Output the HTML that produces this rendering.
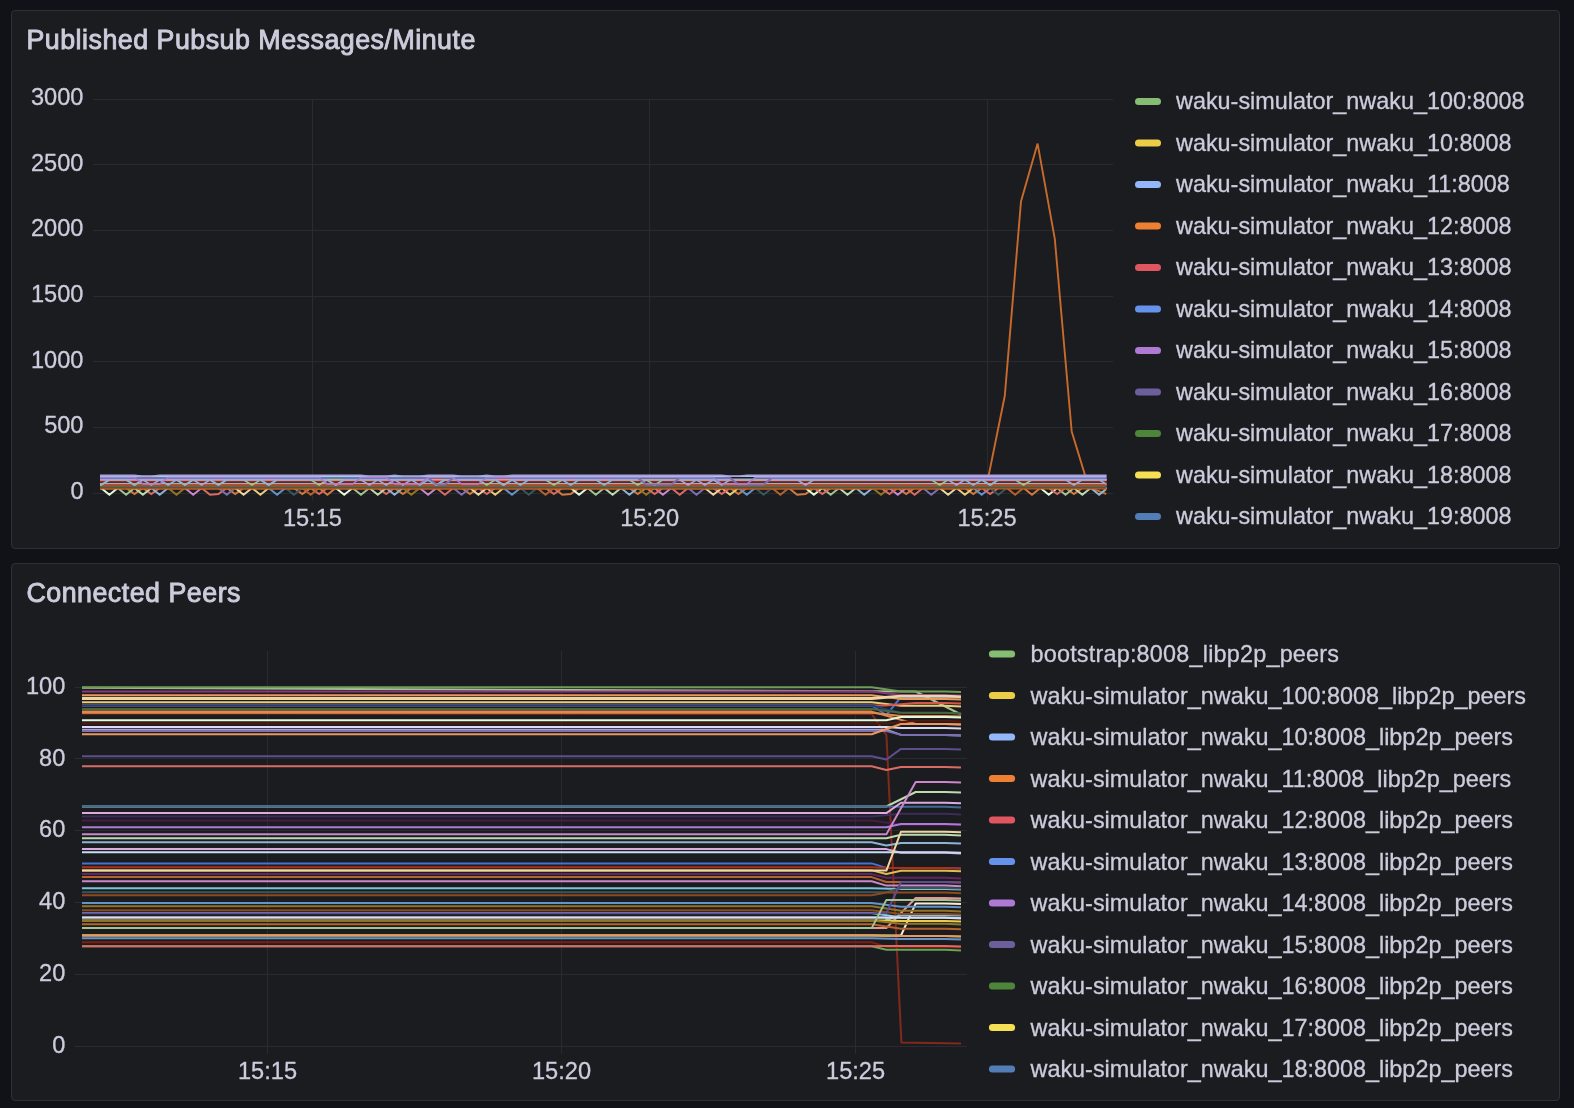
<!DOCTYPE html>
<html><head><meta charset="utf-8"><style>
html,body{margin:0;padding:0;background:#111217;width:1574px;height:1108px;overflow:hidden}
.p{position:absolute;box-sizing:border-box;background:#1b1c20;border:1px solid #2f3036;border-radius:4px}
svg{position:absolute;left:0;top:0;will-change:transform}
text{font-family:"Liberation Sans", sans-serif;fill:#ccccdc}
.ttl{stroke:#ccccdc;stroke-width:0.9px;letter-spacing:0.5px}
.lg{stroke:#ccccdc;stroke-width:0.3px}
</style></head><body>
<div class="p" style="left:11px;top:10px;width:1549px;height:539px"></div>
<div class="p" style="left:11px;top:563px;width:1549px;height:538px"></div>
<svg width="1574" height="1108" viewBox="0 0 1574 1108">
<path d="M93 493.5H1113M93 427.5H1113M93 361.5H1113M93 296.5H1113M93 230.5H1113M93 164.5H1113M93 99.5H1113M312.5 99V500.5M649.5 99V500.5M987.5 99V500.5" stroke="#2a2b30" stroke-width="1" fill="none"/>
<clipPath id="cb"><rect x="100" y="90" width="1006.5" height="420"/></clipPath><g clip-path="url(#cb)">
<path d="M82.6 488.5L971.4 488.5L988.5 476.5L1004.8 395.8L1021 201.5L1037.6 143.6L1054.8 238.9L1071.7 431.6L1088.8 487.5L1106.5 494" stroke="rgb(201,106,44)" stroke-width="1.9" fill="none" stroke-linejoin="miter"/>
<path d="M75.8 488L84.2 488L92.6 494.7L101 488L109.4 488L117.8 488L126.1 488L134.5 494L142.9 488L151.3 488L159.7 488L168.1 488L176.5 488L184.9 488L193.2 488L201.6 488L210 488L218.4 488L226.8 488L235.2 494L243.6 488L252 488L260.4 488L268.7 488L277.1 488L285.5 488L293.9 488L302.3 494L310.7 488L319.1 488L327.4 494.7L335.8 488L344.2 488L352.6 488L361 488L369.4 488L377.8 488L386.2 488L394.5 488L402.9 494L411.3 488L419.7 488L428.1 488L436.5 488L444.9 488L453.3 488L461.6 488L470 494L478.4 488L486.8 488L495.2 488L503.6 488L512 488L520.4 488L528.8 488L537.1 488L545.5 488L553.9 488L562.3 494.7L570.7 494L579.1 488L587.5 488L595.8 488L604.2 488L612.6 488L621 488L629.4 488L637.8 494L646.2 488L654.6 488L662.9 488L671.3 488L679.7 488L688.1 488L696.5 488L704.9 488L713.3 488L721.7 488L730 488L738.4 494L746.8 488L755.2 488L763.6 488L772 488L780.4 488L788.8 488L797.1 494.7L805.5 494L813.9 488L822.3 488L830.7 488L839.1 488L847.5 488L855.9 488L864.2 488L872.6 488L881 488L889.4 488L897.8 488L906.2 494L914.6 488L923 488L931.3 488L939.7 488L948.1 488L956.5 488L964.9 488L973.3 494L981.7 488L990.1 488L998.4 488L1006.8 488L1015.2 488L1023.6 488L1032 494.7L1040.4 488L1048.8 488L1057.2 488L1065.5 488L1073.9 494L1082.3 488L1090.7 488L1099.1 488L1107.5 488L1115.9 488L1124.3 488" stroke="#d27b3f" stroke-width="2.0" fill="none" stroke-linejoin="miter"/>
<path d="M75.8 488L84.2 488L92.6 488L101 488L109.4 488L117.8 488L126.1 488L134.5 488L142.9 488L151.3 488L159.7 488L168.1 488L176.5 494.7L184.9 488L193.2 488L201.6 488L210 488L218.4 488L226.8 488L235.2 488L243.6 488L252 488L260.4 488L268.7 488L277.1 488L285.5 488L293.9 488L302.3 488L310.7 488L319.1 488L327.4 488L335.8 488L344.2 488L352.6 488L361 488L369.4 488L377.8 488L386.2 488L394.5 488L402.9 488L411.3 494.7L419.7 488L428.1 488L436.5 488L444.9 488L453.3 488L461.6 488L470 488L478.4 488L486.8 488L495.2 488L503.6 488L512 488L520.4 488L528.8 488L537.1 488L545.5 488L553.9 488L562.3 488L570.7 488L579.1 488L587.5 488L595.8 488L604.2 488L612.6 488L621 488L629.4 488L637.8 488L646.2 494.7L654.6 488L662.9 488L671.3 488L679.7 488L688.1 488L696.5 488L704.9 488L713.3 488L721.7 488L730 488L738.4 488L746.8 488L755.2 488L763.6 488L772 488L780.4 488L788.8 488L797.1 488L805.5 488L813.9 488L822.3 488L830.7 488L839.1 488L847.5 488L855.9 488L864.2 488L872.6 488L881 494.7L889.4 488L897.8 488L906.2 488L914.6 488L923 488L931.3 488L939.7 488L948.1 488L956.5 488L964.9 488L973.3 488L981.7 488L990.1 488L998.4 488L1006.8 488L1015.2 488L1023.6 488L1032 488L1040.4 488L1048.8 488L1057.2 488L1065.5 488L1073.9 488L1082.3 488L1090.7 488L1099.1 488L1107.5 488L1115.9 494.7L1124.3 488" stroke="#917425" stroke-width="2.0" fill="none" stroke-linejoin="miter"/>
<path d="M75.8 488L84.2 488L92.6 488L101 488L109.4 488L117.8 488L126.1 488L134.5 488L142.9 488L151.3 488L159.7 488L168.1 488L176.5 488L184.9 488L193.2 488L201.6 488L210 488L218.4 488L226.8 488L235.2 488L243.6 488L252 488L260.4 494.7L268.7 488L277.1 488L285.5 488L293.9 488L302.3 488L310.7 488L319.1 488L327.4 488L335.8 488L344.2 488L352.6 488L361 488L369.4 488L377.8 488L386.2 488L394.5 488L402.9 488L411.3 488L419.7 488L428.1 488L436.5 488L444.9 488L453.3 488L461.6 488L470 488L478.4 488L486.8 488L495.2 494.7L503.6 488L512 488L520.4 488L528.8 488L537.1 488L545.5 488L553.9 488L562.3 488L570.7 488L579.1 488L587.5 488L595.8 488L604.2 488L612.6 488L621 488L629.4 488L637.8 488L646.2 488L654.6 488L662.9 488L671.3 488L679.7 488L688.1 488L696.5 488L704.9 488L713.3 488L721.7 488L730 494.7L738.4 488L746.8 488L755.2 488L763.6 488L772 488L780.4 488L788.8 488L797.1 488L805.5 488L813.9 488L822.3 488L830.7 488L839.1 488L847.5 488L855.9 488L864.2 488L872.6 488L881 488L889.4 488L897.8 488L906.2 488L914.6 488L923 488L931.3 488L939.7 488L948.1 488L956.5 488L964.9 494.7L973.3 488L981.7 488L990.1 488L998.4 488L1006.8 488L1015.2 488L1023.6 488L1032 488L1040.4 488L1048.8 488L1057.2 488L1065.5 488L1073.9 488L1082.3 488L1090.7 488L1099.1 488L1107.5 488L1115.9 488L1124.3 488" stroke="#ebcb7b" stroke-width="2.0" fill="none" stroke-linejoin="miter"/>
<path d="M75.8 488L84.2 488L92.6 488L101 488L109.4 494.7L117.8 488L126.1 488L134.5 488L142.9 488L151.3 488L159.7 488L168.1 488L176.5 488L184.9 488L193.2 488L201.6 488L210 488L218.4 488L226.8 488L235.2 488L243.6 488L252 488L260.4 488L268.7 488L277.1 488L285.5 488L293.9 488L302.3 488L310.7 488L319.1 488L327.4 488L335.8 488L344.2 494.7L352.6 488L361 488L369.4 488L377.8 488L386.2 488L394.5 488L402.9 488L411.3 488L419.7 488L428.1 488L436.5 488L444.9 488L453.3 488L461.6 488L470 488L478.4 488L486.8 488L495.2 488L503.6 488L512 488L520.4 488L528.8 488L537.1 488L545.5 488L553.9 488L562.3 488L570.7 488L579.1 494.7L587.5 488L595.8 488L604.2 488L612.6 488L621 488L629.4 488L637.8 488L646.2 488L654.6 488L662.9 488L671.3 488L679.7 488L688.1 488L696.5 488L704.9 488L713.3 488L721.7 488L730 488L738.4 488L746.8 488L755.2 488L763.6 488L772 488L780.4 488L788.8 488L797.1 488L805.5 488L813.9 494.7L822.3 488L830.7 488L839.1 488L847.5 488L855.9 488L864.2 488L872.6 488L881 488L889.4 488L897.8 488L906.2 488L914.6 488L923 488L931.3 488L939.7 488L948.1 488L956.5 488L964.9 488L973.3 488L981.7 488L990.1 488L998.4 488L1006.8 488L1015.2 488L1023.6 488L1032 488L1040.4 488L1048.8 494.7L1057.2 488L1065.5 488L1073.9 488L1082.3 488L1090.7 488L1099.1 488L1107.5 488L1115.9 488L1124.3 488" stroke="#e5f8da" stroke-width="2.0" fill="none" stroke-linejoin="miter"/>
<path d="M75.8 488L84.2 488L92.6 488L101 488L109.4 488L117.8 488L126.1 488L134.5 488L142.9 488L151.3 488L159.7 488L168.1 488L176.5 488L184.9 488L193.2 494.7L201.6 488L210 488L218.4 488L226.8 488L235.2 488L243.6 488L252 488L260.4 488L268.7 488L277.1 488L285.5 488L293.9 488L302.3 488L310.7 488L319.1 488L327.4 488L335.8 488L344.2 488L352.6 488L361 488L369.4 488L377.8 488L386.2 488L394.5 488L402.9 488L411.3 488L419.7 488L428.1 494.7L436.5 488L444.9 488L453.3 488L461.6 488L470 488L478.4 488L486.8 488L495.2 488L503.6 488L512 488L520.4 488L528.8 488L537.1 488L545.5 488L553.9 488L562.3 488L570.7 488L579.1 488L587.5 488L595.8 488L604.2 488L612.6 488L621 488L629.4 488L637.8 488L646.2 488L654.6 488L662.9 494.7L671.3 488L679.7 488L688.1 488L696.5 488L704.9 488L713.3 488L721.7 488L730 488L738.4 488L746.8 488L755.2 488L763.6 488L772 488L780.4 488L788.8 488L797.1 488L805.5 488L813.9 488L822.3 488L830.7 488L839.1 488L847.5 488L855.9 488L864.2 488L872.6 488L881 488L889.4 488L897.8 494.7L906.2 488L914.6 488L923 488L931.3 488L939.7 488L948.1 488L956.5 488L964.9 488L973.3 488L981.7 488L990.1 488L998.4 488L1006.8 488L1015.2 488L1023.6 488L1032 488L1040.4 488L1048.8 488L1057.2 488L1065.5 488L1073.9 488L1082.3 488L1090.7 488L1099.1 488L1107.5 488L1115.9 488L1124.3 488" stroke="#ca87ca" stroke-width="2.0" fill="none" stroke-linejoin="miter"/>
<path d="M75.8 488L84.2 488L92.6 488L101 488L109.4 488L117.8 488L126.1 488L134.5 488L142.9 488L151.3 488L159.7 488L168.1 488L176.5 488L184.9 488L193.2 488L201.6 488L210 488L218.4 488L226.8 488L235.2 488L243.6 488L252 488L260.4 488L268.7 488L277.1 494.7L285.5 488L293.9 488L302.3 488L310.7 488L319.1 488L327.4 488L335.8 488L344.2 488L352.6 488L361 488L369.4 488L377.8 488L386.2 488L394.5 488L402.9 488L411.3 488L419.7 488L428.1 488L436.5 488L444.9 488L453.3 488L461.6 488L470 488L478.4 488L486.8 488L495.2 488L503.6 488L512 494.7L520.4 488L528.8 488L537.1 488L545.5 488L553.9 488L562.3 488L570.7 488L579.1 488L587.5 488L595.8 488L604.2 488L612.6 488L621 488L629.4 488L637.8 488L646.2 488L654.6 488L662.9 488L671.3 488L679.7 488L688.1 488L696.5 488L704.9 488L713.3 488L721.7 488L730 488L738.4 488L746.8 494.7L755.2 488L763.6 488L772 488L780.4 488L788.8 488L797.1 488L805.5 488L813.9 488L822.3 488L830.7 488L839.1 488L847.5 488L855.9 488L864.2 488L872.6 488L881 488L889.4 488L897.8 488L906.2 488L914.6 488L923 488L931.3 488L939.7 488L948.1 488L956.5 488L964.9 488L973.3 488L981.7 494.7L990.1 488L998.4 488L1006.8 488L1015.2 488L1023.6 488L1032 488L1040.4 488L1048.8 488L1057.2 488L1065.5 488L1073.9 488L1082.3 488L1090.7 488L1099.1 488L1107.5 488L1115.9 488L1124.3 488" stroke="#6293c9" stroke-width="2.0" fill="none" stroke-linejoin="miter"/>
<path d="M75.8 488L84.2 488L92.6 488L101 488L109.4 488L117.8 488L126.1 494.7L134.5 488L142.9 488L151.3 488L159.7 488L168.1 488L176.5 488L184.9 488L193.2 488L201.6 488L210 488L218.4 488L226.8 488L235.2 488L243.6 488L252 488L260.4 488L268.7 488L277.1 488L285.5 488L293.9 488L302.3 488L310.7 488L319.1 488L327.4 488L335.8 488L344.2 488L352.6 488L361 494.7L369.4 488L377.8 488L386.2 488L394.5 488L402.9 488L411.3 488L419.7 488L428.1 488L436.5 488L444.9 488L453.3 488L461.6 488L470 488L478.4 488L486.8 488L495.2 488L503.6 488L512 488L520.4 488L528.8 488L537.1 488L545.5 488L553.9 488L562.3 488L570.7 488L579.1 488L587.5 488L595.8 494.7L604.2 488L612.6 488L621 488L629.4 488L637.8 488L646.2 488L654.6 488L662.9 488L671.3 488L679.7 488L688.1 488L696.5 488L704.9 488L713.3 488L721.7 488L730 488L738.4 488L746.8 488L755.2 488L763.6 488L772 488L780.4 488L788.8 488L797.1 488L805.5 488L813.9 488L822.3 488L830.7 494.7L839.1 488L847.5 488L855.9 488L864.2 488L872.6 488L881 488L889.4 488L897.8 488L906.2 488L914.6 488L923 488L931.3 488L939.7 488L948.1 488L956.5 488L964.9 488L973.3 488L981.7 488L990.1 488L998.4 488L1006.8 488L1015.2 488L1023.6 488L1032 488L1040.4 488L1048.8 488L1057.2 488L1065.5 494.7L1073.9 488L1082.3 488L1090.7 488L1099.1 488L1107.5 488L1115.9 488L1124.3 488" stroke="#a3c390" stroke-width="2.0" fill="none" stroke-linejoin="miter"/>
<path d="M75.8 488L84.2 488L92.6 488L101 488L109.4 488L117.8 488L126.1 488L134.5 488L142.9 488L151.3 494L159.7 488L168.1 488L176.5 488L184.9 488L193.2 488L201.6 488L210 494.7L218.4 494L226.8 488L235.2 488L243.6 488L252 488L260.4 488L268.7 488L277.1 488L285.5 488L293.9 488L302.3 488L310.7 488L319.1 494L327.4 488L335.8 488L344.2 488L352.6 488L361 488L369.4 488L377.8 488L386.2 494L394.5 488L402.9 488L411.3 488L419.7 488L428.1 488L436.5 488L444.9 494.7L453.3 488L461.6 488L470 488L478.4 488L486.8 494L495.2 488L503.6 488L512 488L520.4 488L528.8 488L537.1 488L545.5 488L553.9 494L562.3 488L570.7 488L579.1 488L587.5 488L595.8 488L604.2 488L612.6 488L621 488L629.4 488L637.8 488L646.2 488L654.6 494L662.9 488L671.3 488L679.7 494.7L688.1 488L696.5 488L704.9 488L713.3 488L721.7 494L730 488L738.4 488L746.8 488L755.2 488L763.6 488L772 488L780.4 488L788.8 488L797.1 488L805.5 488L813.9 488L822.3 494L830.7 488L839.1 488L847.5 488L855.9 488L864.2 488L872.6 488L881 488L889.4 494L897.8 488L906.2 488L914.6 494.7L923 488L931.3 488L939.7 488L948.1 488L956.5 488L964.9 488L973.3 488L981.7 488L990.1 494L998.4 488L1006.8 488L1015.2 488L1023.6 488L1032 488L1040.4 488L1048.8 488L1057.2 494L1065.5 488L1073.9 488L1082.3 488L1090.7 488L1099.1 488L1107.5 488L1115.9 488L1124.3 488" stroke="#da6c65" stroke-width="2.0" fill="none" stroke-linejoin="miter"/>
<path d="M75.8 488L84.2 488L92.6 488L101 488L109.4 488L117.8 488L126.1 488L134.5 488L142.9 488L151.3 488L159.7 488L168.1 488L176.5 488L184.9 488L193.2 488L201.6 488L210 488L218.4 488L226.8 488L235.2 488L243.6 488L252 488L260.4 488L268.7 488L277.1 488L285.5 488L293.9 494.7L302.3 488L310.7 488L319.1 488L327.4 488L335.8 488L344.2 488L352.6 488L361 488L369.4 488L377.8 488L386.2 488L394.5 488L402.9 488L411.3 488L419.7 488L428.1 488L436.5 488L444.9 488L453.3 488L461.6 488L470 488L478.4 488L486.8 488L495.2 488L503.6 488L512 488L520.4 488L528.8 494.7L537.1 488L545.5 488L553.9 488L562.3 488L570.7 488L579.1 488L587.5 488L595.8 488L604.2 488L612.6 488L621 488L629.4 488L637.8 488L646.2 488L654.6 488L662.9 488L671.3 488L679.7 488L688.1 488L696.5 488L704.9 488L713.3 488L721.7 488L730 488L738.4 488L746.8 488L755.2 488L763.6 494.7L772 488L780.4 488L788.8 488L797.1 488L805.5 488L813.9 488L822.3 488L830.7 488L839.1 488L847.5 488L855.9 488L864.2 488L872.6 488L881 488L889.4 488L897.8 488L906.2 488L914.6 488L923 488L931.3 488L939.7 488L948.1 488L956.5 488L964.9 488L973.3 488L981.7 488L990.1 488L998.4 494.7L1006.8 488L1015.2 488L1023.6 488L1032 488L1040.4 488L1048.8 488L1057.2 488L1065.5 488L1073.9 488L1082.3 488L1090.7 488L1099.1 488L1107.5 488L1115.9 488L1124.3 488" stroke="#39565d" stroke-width="2.0" fill="none" stroke-linejoin="miter"/>
<path d="M75.8 488L84.2 488L92.6 488L101 488L109.4 488L117.8 488L126.1 488L134.5 488L142.9 494.7L151.3 488L159.7 488L168.1 488L176.5 488L184.9 488L193.2 488L201.6 488L210 488L218.4 488L226.8 488L235.2 488L243.6 488L252 488L260.4 488L268.7 488L277.1 488L285.5 488L293.9 488L302.3 488L310.7 488L319.1 488L327.4 488L335.8 488L344.2 488L352.6 488L361 488L369.4 488L377.8 494.7L386.2 488L394.5 488L402.9 488L411.3 488L419.7 488L428.1 488L436.5 488L444.9 488L453.3 488L461.6 488L470 488L478.4 488L486.8 488L495.2 488L503.6 488L512 488L520.4 488L528.8 488L537.1 488L545.5 488L553.9 488L562.3 488L570.7 488L579.1 488L587.5 488L595.8 488L604.2 488L612.6 494.7L621 488L629.4 488L637.8 488L646.2 488L654.6 488L662.9 488L671.3 488L679.7 488L688.1 488L696.5 488L704.9 488L713.3 488L721.7 488L730 488L738.4 488L746.8 488L755.2 488L763.6 488L772 488L780.4 488L788.8 488L797.1 488L805.5 488L813.9 488L822.3 488L830.7 488L839.1 488L847.5 494.7L855.9 488L864.2 488L872.6 488L881 488L889.4 488L897.8 488L906.2 488L914.6 488L923 488L931.3 488L939.7 488L948.1 488L956.5 488L964.9 488L973.3 488L981.7 488L990.1 488L998.4 488L1006.8 488L1015.2 488L1023.6 488L1032 488L1040.4 488L1048.8 488L1057.2 488L1065.5 488L1073.9 488L1082.3 494.7L1090.7 488L1099.1 488L1107.5 488L1115.9 488L1124.3 488" stroke="#bedaaf" stroke-width="2.0" fill="none" stroke-linejoin="miter"/>
<path d="M75.8 488L84.2 488L92.6 488L101 488L109.4 488L117.8 488L126.1 488L134.5 488L142.9 488L151.3 488L159.7 488L168.1 488L176.5 488L184.9 488L193.2 488L201.6 488L210 488L218.4 488L226.8 494.7L235.2 488L243.6 488L252 488L260.4 488L268.7 488L277.1 488L285.5 488L293.9 488L302.3 488L310.7 488L319.1 488L327.4 488L335.8 488L344.2 488L352.6 488L361 488L369.4 488L377.8 488L386.2 488L394.5 488L402.9 488L411.3 488L419.7 488L428.1 488L436.5 488L444.9 488L453.3 488L461.6 494.7L470 488L478.4 488L486.8 488L495.2 488L503.6 488L512 488L520.4 488L528.8 488L537.1 488L545.5 488L553.9 488L562.3 488L570.7 488L579.1 488L587.5 488L595.8 488L604.2 488L612.6 488L621 488L629.4 488L637.8 488L646.2 488L654.6 488L662.9 488L671.3 488L679.7 488L688.1 488L696.5 494.7L704.9 488L713.3 488L721.7 488L730 488L738.4 488L746.8 488L755.2 488L763.6 488L772 488L780.4 488L788.8 488L797.1 488L805.5 488L813.9 488L822.3 488L830.7 488L839.1 488L847.5 488L855.9 488L864.2 488L872.6 488L881 488L889.4 488L897.8 488L906.2 488L914.6 488L923 488L931.3 494.7L939.7 488L948.1 488L956.5 488L964.9 488L973.3 488L981.7 488L990.1 488L998.4 488L1006.8 488L1015.2 488L1023.6 488L1032 488L1040.4 488L1048.8 488L1057.2 488L1065.5 488L1073.9 488L1082.3 488L1090.7 488L1099.1 488L1107.5 488L1115.9 488L1124.3 488" stroke="#7d6fb2" stroke-width="2.0" fill="none" stroke-linejoin="miter"/>
<path d="M75.8 494.7L84.2 488L92.6 488L101 488L109.4 488L117.8 488L126.1 488L134.5 488L142.9 488L151.3 488L159.7 488L168.1 488L176.5 488L184.9 488L193.2 488L201.6 488L210 488L218.4 488L226.8 488L235.2 488L243.6 488L252 488L260.4 488L268.7 488L277.1 488L285.5 488L293.9 488L302.3 488L310.7 494.7L319.1 488L327.4 488L335.8 488L344.2 488L352.6 488L361 488L369.4 488L377.8 488L386.2 488L394.5 488L402.9 488L411.3 488L419.7 488L428.1 488L436.5 488L444.9 488L453.3 488L461.6 488L470 488L478.4 488L486.8 488L495.2 488L503.6 488L512 488L520.4 488L528.8 488L537.1 488L545.5 494.7L553.9 488L562.3 488L570.7 488L579.1 488L587.5 488L595.8 488L604.2 488L612.6 488L621 488L629.4 488L637.8 488L646.2 488L654.6 488L662.9 488L671.3 488L679.7 488L688.1 488L696.5 488L704.9 488L713.3 488L721.7 488L730 488L738.4 488L746.8 488L755.2 488L763.6 488L772 488L780.4 494.7L788.8 488L797.1 488L805.5 488L813.9 488L822.3 488L830.7 488L839.1 488L847.5 488L855.9 488L864.2 488L872.6 488L881 488L889.4 488L897.8 488L906.2 488L914.6 488L923 488L931.3 488L939.7 488L948.1 488L956.5 488L964.9 488L973.3 488L981.7 488L990.1 488L998.4 488L1006.8 488L1015.2 494.7L1023.6 488L1032 488L1040.4 488L1048.8 488L1057.2 488L1065.5 488L1073.9 488L1082.3 488L1090.7 488L1099.1 488L1107.5 488L1115.9 488L1124.3 488" stroke="#b4622b" stroke-width="2.0" fill="none" stroke-linejoin="miter"/>
<path d="M75.8 488L84.2 488L92.6 488L101 488L109.4 488L117.8 488L126.1 488L134.5 488L142.9 488L151.3 488L159.7 494.7L168.1 488L176.5 488L184.9 488L193.2 488L201.6 488L210 488L218.4 488L226.8 488L235.2 488L243.6 488L252 488L260.4 488L268.7 488L277.1 488L285.5 488L293.9 488L302.3 488L310.7 488L319.1 488L327.4 488L335.8 488L344.2 488L352.6 488L361 488L369.4 488L377.8 488L386.2 488L394.5 494.7L402.9 488L411.3 488L419.7 488L428.1 488L436.5 488L444.9 488L453.3 488L461.6 488L470 488L478.4 488L486.8 488L495.2 488L503.6 488L512 488L520.4 488L528.8 488L537.1 488L545.5 488L553.9 488L562.3 488L570.7 488L579.1 488L587.5 488L595.8 488L604.2 488L612.6 488L621 488L629.4 494.7L637.8 488L646.2 488L654.6 488L662.9 488L671.3 488L679.7 488L688.1 488L696.5 488L704.9 488L713.3 488L721.7 488L730 488L738.4 488L746.8 488L755.2 488L763.6 488L772 488L780.4 488L788.8 488L797.1 488L805.5 488L813.9 488L822.3 488L830.7 488L839.1 488L847.5 488L855.9 488L864.2 494.7L872.6 488L881 488L889.4 488L897.8 488L906.2 488L914.6 488L923 488L931.3 488L939.7 488L948.1 488L956.5 488L964.9 488L973.3 488L981.7 488L990.1 488L998.4 488L1006.8 488L1015.2 488L1023.6 488L1032 488L1040.4 488L1048.8 488L1057.2 488L1065.5 488L1073.9 488L1082.3 488L1090.7 488L1099.1 494.7L1107.5 488L1115.9 488L1124.3 488" stroke="#8db4d5" stroke-width="2.0" fill="none" stroke-linejoin="miter"/>
<path d="M75.8 488L84.2 488L92.6 488L101 488L109.4 488L117.8 488L126.1 488L134.5 488L142.9 488L151.3 488L159.7 488L168.1 488L176.5 488L184.9 488L193.2 488L201.6 488L210 488L218.4 488L226.8 488L235.2 488L243.6 494.7L252 488L260.4 488L268.7 488L277.1 488L285.5 488L293.9 488L302.3 488L310.7 488L319.1 488L327.4 488L335.8 488L344.2 488L352.6 488L361 488L369.4 488L377.8 488L386.2 488L394.5 488L402.9 488L411.3 488L419.7 488L428.1 488L436.5 488L444.9 488L453.3 488L461.6 488L470 488L478.4 494.7L486.8 488L495.2 488L503.6 488L512 488L520.4 488L528.8 488L537.1 488L545.5 488L553.9 488L562.3 488L570.7 488L579.1 488L587.5 488L595.8 488L604.2 488L612.6 488L621 488L629.4 488L637.8 488L646.2 488L654.6 488L662.9 488L671.3 488L679.7 488L688.1 488L696.5 488L704.9 488L713.3 494.7L721.7 488L730 488L738.4 488L746.8 488L755.2 488L763.6 488L772 488L780.4 488L788.8 488L797.1 488L805.5 488L813.9 488L822.3 488L830.7 488L839.1 488L847.5 488L855.9 488L864.2 488L872.6 488L881 488L889.4 488L897.8 488L906.2 488L914.6 488L923 488L931.3 488L939.7 488L948.1 494.7L956.5 488L964.9 488L973.3 488L981.7 488L990.1 488L998.4 488L1006.8 488L1015.2 488L1023.6 488L1032 488L1040.4 488L1048.8 488L1057.2 488L1065.5 488L1073.9 488L1082.3 488L1090.7 488L1099.1 488L1107.5 488L1115.9 488L1124.3 488" stroke="#efd6a0" stroke-width="2.0" fill="none" stroke-linejoin="miter"/>
<path d="M75.8 488.6L1132.6 488.6" stroke="#b4622b" stroke-width="1.7" fill="none"/>
<path d="M75.8 487.6L1132.6 487.6" stroke="#8e491d" stroke-width="1.7" fill="none"/>
<path d="M75.8 486.6L1132.6 486.6" stroke="#39565d" stroke-width="1.7" fill="none"/>
<path d="M75.8 485.7L1132.6 485.7" stroke="#917425" stroke-width="1.7" fill="none"/>
<path d="M75.8 484.6L1132.6 484.6" stroke="#af2f19" stroke-width="1.7" fill="none"/>
<path d="M75.8 483.4L1132.6 483.4" stroke="#8db4d5" stroke-width="1.7" fill="none"/>
<path d="M75.8 482.2L1132.6 482.2" stroke="#7d1e10" stroke-width="1.7" fill="none"/>
<path d="M75.8 481.2L1132.6 481.2" stroke="#7d1e10" stroke-width="1.7" fill="none"/>
<path d="M75.8 480.3L1132.6 480.3" stroke="#d1584a" stroke-width="1.7" fill="none"/>
<path d="M75.8 479.4L1132.6 479.4" stroke="#e59693" stroke-width="1.7" fill="none"/>
<path d="M75.8 479.8L84.2 479.8L92.6 479.8L101 485L109.4 479.8L117.8 479.8L126.1 479.8L134.5 485L142.9 479.8L151.3 479.8L159.7 479.8L168.1 479.8L176.5 479.8L184.9 485L193.2 479.8L201.6 479.8L210 479.8L218.4 485L226.8 479.8L235.2 479.8L243.6 479.8L252 485L260.4 479.8L268.7 485L277.1 479.8L285.5 479.8L293.9 479.8L302.3 479.8L310.7 479.8L319.1 485L327.4 479.8L335.8 479.8L344.2 479.8L352.6 479.8L361 479.8L369.4 479.8L377.8 479.8L386.2 479.8L394.5 479.8L402.9 479.8L411.3 479.8L419.7 479.8L428.1 479.8L436.5 485L444.9 479.8L453.3 479.8L461.6 479.8L470 479.8L478.4 479.8L486.8 485L495.2 479.8L503.6 485L512 479.8L520.4 479.8L528.8 479.8L537.1 479.8L545.5 479.8L553.9 485L562.3 479.8L570.7 479.8L579.1 479.8L587.5 479.8L595.8 479.8L604.2 479.8L612.6 479.8L621 479.8L629.4 479.8L637.8 485L646.2 479.8L654.6 485L662.9 479.8L671.3 479.8L679.7 479.8L688.1 479.8L696.5 479.8L704.9 479.8L713.3 479.8L721.7 479.8L730 479.8L738.4 479.8L746.8 479.8L755.2 479.8L763.6 479.8L772 479.8L780.4 479.8L788.8 479.8L797.1 479.8L805.5 479.8L813.9 479.8L822.3 479.8L830.7 479.8L839.1 479.8L847.5 479.8L855.9 479.8L864.2 479.8L872.6 479.8L881 479.8L889.4 479.8L897.8 479.8L906.2 479.8L914.6 479.8L923 479.8L931.3 479.8L939.7 485L948.1 479.8L956.5 479.8L964.9 479.8L973.3 479.8L981.7 479.8L990.1 485L998.4 479.8L1006.8 479.8L1015.2 479.8L1023.6 485L1032 479.8L1040.4 479.8L1048.8 479.8L1057.2 479.8L1065.5 479.8L1073.9 479.8L1082.3 479.8L1090.7 479.8L1099.1 479.8L1107.5 479.8L1115.9 479.8L1124.3 479.8" stroke="#a3c390" stroke-width="1.5" fill="none"/>
<path d="M75.8 479.8L84.2 479.8L92.6 479.8L101 479.8L109.4 479.8L117.8 479.8L126.1 479.8L134.5 479.8L142.9 479.8L151.3 479.8L159.7 479.8L168.1 479.8L176.5 479.8L184.9 479.8L193.2 479.8L201.6 485L210 479.8L218.4 479.8L226.8 479.8L235.2 479.8L243.6 479.8L252 479.8L260.4 479.8L268.7 479.8L277.1 479.8L285.5 479.8L293.9 479.8L302.3 479.8L310.7 479.8L319.1 479.8L327.4 479.8L335.8 485L344.2 479.8L352.6 479.8L361 479.8L369.4 485L377.8 479.8L386.2 485L394.5 479.8L402.9 485L411.3 479.8L419.7 479.8L428.1 479.8L436.5 485L444.9 479.8L453.3 479.8L461.6 479.8L470 479.8L478.4 479.8L486.8 479.8L495.2 479.8L503.6 485L512 479.8L520.4 479.8L528.8 479.8L537.1 479.8L545.5 479.8L553.9 479.8L562.3 479.8L570.7 479.8L579.1 479.8L587.5 479.8L595.8 479.8L604.2 479.8L612.6 479.8L621 479.8L629.4 479.8L637.8 479.8L646.2 479.8L654.6 479.8L662.9 479.8L671.3 479.8L679.7 479.8L688.1 485L696.5 479.8L704.9 485L713.3 479.8L721.7 479.8L730 479.8L738.4 479.8L746.8 479.8L755.2 479.8L763.6 479.8L772 479.8L780.4 479.8L788.8 479.8L797.1 479.8L805.5 485L813.9 479.8L822.3 479.8L830.7 479.8L839.1 479.8L847.5 479.8L855.9 479.8L864.2 479.8L872.6 479.8L881 479.8L889.4 479.8L897.8 479.8L906.2 479.8L914.6 479.8L923 479.8L931.3 479.8L939.7 479.8L948.1 479.8L956.5 485L964.9 479.8L973.3 479.8L981.7 479.8L990.1 479.8L998.4 479.8L1006.8 479.8L1015.2 479.8L1023.6 479.8L1032 479.8L1040.4 479.8L1048.8 479.8L1057.2 479.8L1065.5 479.8L1073.9 485L1082.3 479.8L1090.7 479.8L1099.1 479.8L1107.5 485L1115.9 479.8L1124.3 485" stroke="#aca2db" stroke-width="1.5" fill="none"/>
<path d="M75.8 479.8L84.2 479.8L92.6 479.8L101 485L109.4 479.8L117.8 479.8L126.1 479.8L134.5 485L142.9 479.8L151.3 485L159.7 479.8L168.1 485L176.5 479.8L184.9 485L193.2 479.8L201.6 479.8L210 479.8L218.4 485L226.8 479.8L235.2 479.8L243.6 479.8L252 479.8L260.4 479.8L268.7 485L277.1 479.8L285.5 479.8L293.9 479.8L302.3 479.8L310.7 479.8L319.1 479.8L327.4 479.8L335.8 485L344.2 479.8L352.6 479.8L361 479.8L369.4 479.8L377.8 479.8L386.2 479.8L394.5 479.8L402.9 479.8L411.3 479.8L419.7 485L428.1 479.8L436.5 485L444.9 479.8L453.3 479.8L461.6 479.8L470 479.8L478.4 479.8L486.8 479.8L495.2 479.8L503.6 485L512 479.8L520.4 485L528.8 479.8L537.1 479.8L545.5 479.8L553.9 479.8L562.3 479.8L570.7 485L579.1 479.8L587.5 479.8L595.8 479.8L604.2 485L612.6 479.8L621 479.8L629.4 479.8L637.8 479.8L646.2 479.8L654.6 479.8L662.9 479.8L671.3 479.8L679.7 479.8L688.1 479.8L696.5 479.8L704.9 479.8L713.3 479.8L721.7 485L730 479.8L738.4 479.8L746.8 479.8L755.2 479.8L763.6 479.8L772 479.8L780.4 479.8L788.8 479.8L797.1 479.8L805.5 479.8L813.9 479.8L822.3 479.8L830.7 479.8L839.1 479.8L847.5 479.8L855.9 479.8L864.2 479.8L872.6 479.8L881 479.8L889.4 479.8L897.8 479.8L906.2 479.8L914.6 479.8L923 479.8L931.3 479.8L939.7 479.8L948.1 479.8L956.5 479.8L964.9 479.8L973.3 485L981.7 479.8L990.1 485L998.4 479.8L1006.8 479.8L1015.2 479.8L1023.6 479.8L1032 479.8L1040.4 479.8L1048.8 479.8L1057.2 479.8L1065.5 479.8L1073.9 479.8L1082.3 479.8L1090.7 479.8L1099.1 479.8L1107.5 479.8L1115.9 479.8L1124.3 479.8" stroke="#8db4d5" stroke-width="1.5" fill="none"/>
<path d="M75.8 477.9L84.2 477.9L92.6 477.9L101 477.9L109.4 477.9L117.8 477.9L126.1 477.9L134.5 477.9L142.9 477.9L151.3 477.9L159.7 477.9L168.1 477.9L176.5 477.9L184.9 477.9L193.2 477.9L201.6 477.9L210 477.9L218.4 477.9L226.8 477.9L235.2 477.9L243.6 477.9L252 477.9L260.4 477.9L268.7 477.9L277.1 477.9L285.5 477.9L293.9 477.9L302.3 477.9L310.7 477.9L319.1 477.9L327.4 477.9L335.8 477.9L344.2 477.9L352.6 477.9L361 477.9L369.4 477.9L377.8 477.9L386.2 477.9L394.5 477.9L402.9 477.9L411.3 477.9L419.7 477.9L428.1 477.9L436.5 484.6L444.9 484.6L453.3 477.9L461.6 477.9L470 477.9L478.4 477.9L486.8 477.9L495.2 477.9L503.6 477.9L512 477.9L520.4 477.9L528.8 477.9L537.1 477.9L545.5 477.9L553.9 477.9L562.3 477.9L570.7 477.9L579.1 477.9L587.5 477.9L595.8 477.9L604.2 477.9L612.6 477.9L621 477.9L629.4 477.9L637.8 477.9L646.2 484.6L654.6 484.6L662.9 484.6L671.3 484.6L679.7 477.9L688.1 477.9L696.5 477.9L704.9 477.9L713.3 477.9L721.7 477.9L730 477.9L738.4 484.6L746.8 484.6L755.2 484.6L763.6 484.6L772 477.9L780.4 477.9L788.8 477.9L797.1 477.9L805.5 477.9L813.9 477.9L822.3 477.9L830.7 477.9L839.1 477.9L847.5 477.9L855.9 477.9L864.2 477.9L872.6 477.9L881 477.9L889.4 477.9L897.8 477.9L906.2 477.9L914.6 477.9L923 477.9L931.3 477.9L939.7 477.9L948.1 477.9L956.5 477.9L964.9 477.9L973.3 477.9L981.7 477.9L990.1 477.9L998.4 477.9L1006.8 477.9L1015.2 477.9L1023.6 477.9L1032 477.9L1040.4 477.9L1048.8 477.9L1057.2 477.9L1065.5 477.9L1073.9 477.9L1082.3 477.9L1090.7 477.9L1099.1 477.9L1107.5 477.9L1115.9 477.9L1124.3 477.9" stroke="#7d6fb2" stroke-width="2.0" fill="none"/>
<path d="M75.8 476.2L84.2 476.2L92.6 476.2L101 476.2L109.4 476.2L117.8 476.2L126.1 476.2L134.5 476.2L142.9 476.2L151.3 476.2L159.7 476.2L168.1 476.2L176.5 476.2L184.9 476.2L193.2 476.2L201.6 476.2L210 476.2L218.4 476.2L226.8 476.2L235.2 476.2L243.6 476.2L252 476.2L260.4 476.2L268.7 476.2L277.1 476.2L285.5 476.2L293.9 476.2L302.3 476.2L310.7 476.2L319.1 476.2L327.4 476.2L335.8 476.2L344.2 476.2L352.6 476.2L361 476.2L369.4 476.2L377.8 476.2L386.2 476.2L394.5 476.2L402.9 476.2L411.3 476.2L419.7 476.2L428.1 476.2L436.5 476.2L444.9 476.2L453.3 476.2L461.6 476.2L470 476.2L478.4 476.2L486.8 476.2L495.2 476.2L503.6 476.2L512 476.2L520.4 476.2L528.8 476.2L537.1 476.2L545.5 476.2L553.9 476.2L562.3 476.2L570.7 476.2L579.1 476.2L587.5 476.2L595.8 476.2L604.2 476.2L612.6 476.2L621 476.2L629.4 476.2L637.8 476.2L646.2 476.2L654.6 476.2L662.9 476.2L671.3 476.2L679.7 476.2L688.1 476.2L696.5 476.2L704.9 476.2L713.3 476.2L721.7 476.2L730 476.2L738.4 476.2L746.8 476.2L755.2 476.2L763.6 476.2L772 476.2L780.4 476.2L788.8 476.2L797.1 476.2L805.5 476.2L813.9 476.2L822.3 476.2L830.7 476.2L839.1 476.2L847.5 476.2L855.9 476.2L864.2 476.2L872.6 476.2L881 476.2L889.4 476.2L897.8 476.2L906.2 476.2L914.6 476.2L923 476.2L931.3 476.2L939.7 476.2L948.1 476.2L956.5 476.2L964.9 476.2L973.3 476.2L981.7 476.2L990.1 476.2L998.4 476.2L1006.8 476.2L1015.2 476.2L1023.6 476.2L1032 476.2L1040.4 476.2L1048.8 476.2L1057.2 476.2L1065.5 476.2L1073.9 476.2L1082.3 476.2L1090.7 476.2L1099.1 476.2L1107.5 476.2L1115.9 476.2L1124.3 476.2" stroke="#8bd8ea" stroke-width="1.5" fill="none"/>
<path d="M75.8 475.3L84.2 475.3L92.6 475.3L101 475.3L109.4 475.3L117.8 475.3L126.1 475.3L134.5 475.3L142.9 476.3L151.3 476.3L159.7 475.3L168.1 475.3L176.5 475.3L184.9 475.3L193.2 475.3L201.6 475.3L210 475.3L218.4 475.3L226.8 475.3L235.2 475.3L243.6 475.3L252 475.3L260.4 475.3L268.7 475.3L277.1 475.3L285.5 475.3L293.9 475.3L302.3 475.3L310.7 475.3L319.1 475.3L327.4 475.3L335.8 475.3L344.2 475.3L352.6 475.3L361 475.3L369.4 476.3L377.8 476.3L386.2 476.3L394.5 475.3L402.9 476.3L411.3 476.3L419.7 476.3L428.1 475.3L436.5 475.3L444.9 475.3L453.3 475.3L461.6 476.3L470 476.3L478.4 476.3L486.8 475.3L495.2 476.3L503.6 476.3L512 475.3L520.4 475.3L528.8 475.3L537.1 475.3L545.5 475.3L553.9 475.3L562.3 475.3L570.7 475.3L579.1 475.3L587.5 475.3L595.8 475.3L604.2 475.3L612.6 475.3L621 475.3L629.4 475.3L637.8 475.3L646.2 475.3L654.6 475.3L662.9 475.3L671.3 475.3L679.7 475.3L688.1 475.3L696.5 475.3L704.9 475.3L713.3 475.3L721.7 475.3L730 476.3L738.4 476.3L746.8 475.3L755.2 475.3L763.6 475.3L772 475.3L780.4 475.3L788.8 475.3L797.1 475.3L805.5 475.3L813.9 475.3L822.3 475.3L830.7 475.3L839.1 475.3L847.5 475.3L855.9 475.3L864.2 475.3L872.6 475.3L881 475.3L889.4 475.3L897.8 475.3L906.2 475.3L914.6 475.3L923 475.3L931.3 475.3L939.7 475.3L948.1 475.3L956.5 475.3L964.9 475.3L973.3 475.3L981.7 475.3L990.1 475.3L998.4 475.3L1006.8 475.3L1015.2 475.3L1023.6 475.3L1032 475.3L1040.4 475.3L1048.8 475.3L1057.2 475.3L1065.5 475.3L1073.9 475.3L1082.3 475.3L1090.7 475.3L1099.1 475.3L1107.5 475.3L1115.9 475.3L1124.3 475.3" stroke="#aca2db" stroke-width="1.6" fill="none"/>
<path d="M75.8 477.6L84.2 477.6L92.6 477.6L101 477.6L109.4 477.6L117.8 477.6L126.1 477.6L134.5 477.6L142.9 484L151.3 484L159.7 484L168.1 477.6L176.5 477.6L184.9 477.6L193.2 477.6L201.6 477.6L210 477.6L218.4 477.6L226.8 477.6L235.2 477.6L243.6 477.6L252 477.6L260.4 477.6L268.7 477.6L277.1 477.6L285.5 477.6L293.9 477.6L302.3 477.6L310.7 477.6L319.1 477.6L327.4 484L335.8 484L344.2 484L352.6 484L361 477.6L369.4 477.6L377.8 477.6L386.2 477.6L394.5 484L402.9 484L411.3 484L419.7 484L428.1 477.6L436.5 477.6L444.9 477.6L453.3 477.6L461.6 484L470 484L478.4 484L486.8 477.6L495.2 477.6L503.6 477.6L512 477.6L520.4 477.6L528.8 477.6L537.1 477.6L545.5 477.6L553.9 477.6L562.3 477.6L570.7 477.6L579.1 477.6L587.5 477.6L595.8 477.6L604.2 477.6L612.6 477.6L621 477.6L629.4 477.6L637.8 477.6L646.2 477.6L654.6 477.6L662.9 477.6L671.3 477.6L679.7 477.6L688.1 477.6L696.5 477.6L704.9 477.6L713.3 477.6L721.7 484L730 484L738.4 484L746.8 484L755.2 477.6L763.6 477.6L772 477.6L780.4 477.6L788.8 477.6L797.1 477.6L805.5 477.6L813.9 477.6L822.3 477.6L830.7 477.6L839.1 477.6L847.5 477.6L855.9 477.6L864.2 477.6L872.6 477.6L881 477.6L889.4 477.6L897.8 477.6L906.2 477.6L914.6 477.6L923 477.6L931.3 477.6L939.7 477.6L948.1 477.6L956.5 477.6L964.9 477.6L973.3 477.6L981.7 477.6L990.1 477.6L998.4 477.6L1006.8 477.6L1015.2 477.6L1023.6 477.6L1032 477.6L1040.4 477.6L1048.8 477.6L1057.2 477.6L1065.5 477.6L1073.9 477.6L1082.3 477.6L1090.7 477.6L1099.1 477.6L1107.5 477.6L1115.9 484L1124.3 484L1132.6 484" stroke="#af7ad3" stroke-width="1.5" fill="none"/>
</g>
<path d="M75 1046.5H967M75 974.5H967M75 902.5H967M75 830.5H967M75 758.5H967M75 687.5H967M267.5 651V1054M561.5 651V1054M855.5 651V1054" stroke="#2a2b30" stroke-width="1" fill="none"/>
<path d="M82 713.5L871.7 714L886.4 735L901.4 1042.5L961 1043.5" stroke="#812a1c" stroke-width="2" fill="none" stroke-linejoin="round"/>
<path d="M82 935.5L901 935.5L915.7 903.5L945 903.5L961 904.1" stroke="#f9ebcd" stroke-width="2" fill="none" stroke-linejoin="round"/>
<path d="M82 928L886.4 928L915.7 898L945 898L961 898.6" stroke="#e59693" stroke-width="2" fill="none" stroke-linejoin="round"/>
<path d="M82 917.4L886.4 917.4L886.4 920L901 915L945 915L961 915.6" stroke="#7dc3d8" stroke-width="2" fill="none" stroke-linejoin="round"/>
<path d="M82 920.4L886.4 920.4L901 921L945 921L961 921.6" stroke="#eccd47" stroke-width="2" fill="none" stroke-linejoin="round"/>
<path d="M82 913L871.7 913L901 917.5L945 917.5L961 918.1" stroke="#8bd8ea" stroke-width="2" fill="none" stroke-linejoin="round"/>
<path d="M82 705.5L871.7 705.5L886.4 715L901 697L945 697L961 697.6" stroke="#4473d2" stroke-width="2" fill="none" stroke-linejoin="round"/>
<path d="M82 946.2L871.7 946.2L886.4 949.8L945 949.8L961 950.4" stroke="#6aa456" stroke-width="2" fill="none" stroke-linejoin="round"/>
<path d="M82 935.3L886.4 935.3L901 936L945 936L961 936.6" stroke="#6aa456" stroke-width="2" fill="none" stroke-linejoin="round"/>
<path d="M82 687.8L915.7 691.5L961 714.5" stroke="#a3c390" stroke-width="2" fill="none" stroke-linejoin="round"/>
<path d="M82 687.3L871.7 687.3L901 691.5L945 691.5L961 692.1" stroke="#709c5a" stroke-width="2" fill="none" stroke-linejoin="round"/>
<path d="M82 691.4L871.7 691.4L901 695L945 695L961 695.6" stroke="#8a357e" stroke-width="2" fill="none" stroke-linejoin="round"/>
<path d="M82 695.2L871.7 695.2L901 699L945 699L961 699.6" stroke="#eb985c" stroke-width="2" fill="none" stroke-linejoin="round"/>
<path d="M82 698L871.7 698L901 695.8L945 695.8L961 696.4" stroke="#efd6a0" stroke-width="2" fill="none" stroke-linejoin="round"/>
<path d="M82 699L871.7 699L901 696.5L945 696.5L961 697.1" stroke="#efd6a0" stroke-width="2" fill="none" stroke-linejoin="round"/>
<path d="M82 702.2L871.7 702.2L901 705.8L945 705.8L961 706.4" stroke="#ebcb7b" stroke-width="2" fill="none" stroke-linejoin="round"/>
<path d="M82 705.5L886.4 705.5L915.7 703L945 703L961 703.6" stroke="#d1584a" stroke-width="2" fill="none" stroke-linejoin="round"/>
<path d="M82 705.5L871.7 705.5L901 713L945 713L961 713.6" stroke="#1d4278" stroke-width="2" fill="none" stroke-linejoin="round"/>
<path d="M82 709.1L871.7 709.1L901 712.8L945 712.8L961 713.4" stroke="#486739" stroke-width="2" fill="none" stroke-linejoin="round"/>
<path d="M82 711.6L871.7 711.6L915.7 724L945 724L961 724.6" stroke="#e1894c" stroke-width="2" fill="none" stroke-linejoin="round"/>
<path d="M82 712.8L871.7 712.8L901 716L945 716L961 716.6" stroke="#e1894c" stroke-width="2" fill="none" stroke-linejoin="round"/>
<path d="M82 720.2L886.4 720.2L901 717L945 717L961 717.6" stroke="#e5f8da" stroke-width="2" fill="none" stroke-linejoin="round"/>
<path d="M82 723.5L886.4 723.5L915.7 720.8L945 720.8L961 721.4" stroke="#511911" stroke-width="2" fill="none" stroke-linejoin="round"/>
<path d="M82 727.1L886.4 727.1L901 727.9L945 727.9L961 728.5" stroke="#dddaf5" stroke-width="2" fill="none" stroke-linejoin="round"/>
<path d="M82 729.8L886.4 729.8L901 734.9L945 734.9L961 735.5" stroke="#aca2db" stroke-width="2" fill="none" stroke-linejoin="round"/>
<path d="M82 731L886.4 731L901 734.9L945 734.9L961 735.5" stroke="#7d6fb2" stroke-width="2" fill="none" stroke-linejoin="round"/>
<path d="M82 734.3L871.7 734.3L901 724L945 724L961 724.6" stroke="#eb985c" stroke-width="2" fill="none" stroke-linejoin="round"/>
<path d="M82 756.2L871.7 756.2L886.4 759.5L901 748.9L945 748.9L961 749.5" stroke="#5e4e8f" stroke-width="2" fill="none" stroke-linejoin="round"/>
<path d="M82 766.3L871.7 766.3L886.4 770L901 767L945 767L961 767.6" stroke="#da6c65" stroke-width="2" fill="none" stroke-linejoin="round"/>
<path d="M82 806.5L886.4 806.5L915.7 792L945 792L961 792.6" stroke="#bedaaf" stroke-width="2" fill="none" stroke-linejoin="round"/>
<path d="M82 806.3L871.7 806.3L901 806.8L945 806.8L961 807.4" stroke="#3f6a96" stroke-width="2" fill="none" stroke-linejoin="round"/>
<path d="M82 813.1L886.4 813.1L901 802.7L945 802.7L961 803.3" stroke="#dcaade" stroke-width="2" fill="none" stroke-linejoin="round"/>
<path d="M82 816.6L871.7 816.6L901 813.8L945 813.8L961 814.4" stroke="#3c2c58" stroke-width="2" fill="none" stroke-linejoin="round"/>
<path d="M82 820.4L871.7 820.4L901 824.7L945 824.7L961 825.3" stroke="#4a1b47" stroke-width="2" fill="none" stroke-linejoin="round"/>
<path d="M82 827.2L886.4 827.2L901 824L945 824L961 824.6" stroke="#af7ad3" stroke-width="2" fill="none" stroke-linejoin="round"/>
<path d="M82 834.3L886.4 834.3L915.7 782L945 782L961 782.6" stroke="#ca87ca" stroke-width="2" fill="none" stroke-linejoin="round"/>
<path d="M82 838.3L886.4 838.3L901 834.8L945 834.8L961 835.4" stroke="#bedaaf" stroke-width="2" fill="none" stroke-linejoin="round"/>
<path d="M82 842.3L871.7 842.3L886.4 845.5L901 842.9L945 842.9L961 843.5" stroke="#8db4d5" stroke-width="2" fill="none" stroke-linejoin="round"/>
<path d="M82 849.1L886.4 849.1L901 852.8L945 852.8L961 853.4" stroke="#dcaade" stroke-width="2" fill="none" stroke-linejoin="round"/>
<path d="M82 852.2L871.7 852.2L901 852.2L945 852.2L961 852.8" stroke="#c1def2" stroke-width="2" fill="none" stroke-linejoin="round"/>
<path d="M82 863.4L871.7 863.4L886.4 867.9L945 867.9L961 868.5" stroke="#4473d2" stroke-width="2" fill="none" stroke-linejoin="round"/>
<path d="M82 867.2L871.7 867.2L886.4 867.9L945 867.9L961 868.5" stroke="#af2f19" stroke-width="2" fill="none" stroke-linejoin="round"/>
<path d="M82 870.4L871.7 870.4L886.4 874L901 870.7L945 870.7L961 871.3" stroke="#e2ba53" stroke-width="2" fill="none" stroke-linejoin="round"/>
<path d="M82 870.6L886.4 870.6L901 831.7L945 831.7L961 832.3" stroke="#efd6a0" stroke-width="2" fill="none" stroke-linejoin="round"/>
<path d="M82 874.1L871.7 874.1L886.4 877.8L945 877.8L961 878.4" stroke="#64255f" stroke-width="2" fill="none" stroke-linejoin="round"/>
<path d="M82 877.1L871.7 877.1L886.4 882L945 882L961 882.6" stroke="#b4622b" stroke-width="2" fill="none" stroke-linejoin="round"/>
<path d="M82 881.3L871.7 881.3L886.4 885.6L945 885.6L961 886.2" stroke="#ca87ca" stroke-width="2" fill="none" stroke-linejoin="round"/>
<path d="M82 888.2L871.7 888.2L901 888.9L945 888.9L961 889.5" stroke="#7dc3d8" stroke-width="2" fill="none" stroke-linejoin="round"/>
<path d="M82 892.2L886.4 892.2L901 888L945 888L961 888.6" stroke="#39565d" stroke-width="2" fill="none" stroke-linejoin="round"/>
<path d="M82 895.2L871.7 895.2L886.4 892.6L945 892.6L961 893.2" stroke="#8e491d" stroke-width="2" fill="none" stroke-linejoin="round"/>
<path d="M82 903.1L871.7 903.1L901 906.7L945 906.7L961 907.3" stroke="#6293c9" stroke-width="2" fill="none" stroke-linejoin="round"/>
<path d="M82 906.3L871.7 906.3L901 910.8L945 910.8L961 911.4" stroke="#917425" stroke-width="2" fill="none" stroke-linejoin="round"/>
<path d="M82 910.3L871.7 910.3L901 914L945 914L961 914.6" stroke="#8e491d" stroke-width="2" fill="none" stroke-linejoin="round"/>
<path d="M82 913.2L886.4 913.2L901 882L945 882L961 882.6" stroke="#5e4e8f" stroke-width="2" fill="none" stroke-linejoin="round"/>
<path d="M82 917.4L871.7 917.4L901 917.8L945 917.8L961 918.4" stroke="#dddaf5" stroke-width="2" fill="none" stroke-linejoin="round"/>
<path d="M82 920.4L871.7 920.4L901 923.8L945 923.8L961 924.4" stroke="#917425" stroke-width="2" fill="none" stroke-linejoin="round"/>
<path d="M82 924.3L871.7 924.3L901 928.7L945 928.7L961 929.3" stroke="#b4622b" stroke-width="2" fill="none" stroke-linejoin="round"/>
<path d="M82 928.1L871.7 928.1L886.4 899.9L945 899.9L961 900.5" stroke="#a3c390" stroke-width="2" fill="none" stroke-linejoin="round"/>
<path d="M82 935.3L871.7 935.3L886.4 936L945 936L961 936.6" stroke="#eb985c" stroke-width="2" fill="none" stroke-linejoin="round"/>
<path d="M82 938.2L871.7 938.2L901 939L945 939L961 939.6" stroke="#6293c9" stroke-width="2" fill="none" stroke-linejoin="round"/>
<path d="M82 942.2L871.7 942.2L886.4 946.9L945 946.9L961 947.5" stroke="#7d1e10" stroke-width="2" fill="none" stroke-linejoin="round"/>
<path d="M82 946.2L871.7 946.2L886.4 946L945 946L961 946.6" stroke="#da6c65" stroke-width="2" fill="none" stroke-linejoin="round"/>
<rect x="1135" y="98" width="26" height="7.0" rx="3.5" fill="#85bd72"/><rect x="1135" y="139.5" width="26" height="7.0" rx="3.5" fill="#eccd47"/><rect x="1135" y="181" width="26" height="7.0" rx="3.5" fill="#94b7f9"/><rect x="1135" y="222.5" width="26" height="7.0" rx="3.5" fill="#ee8033"/><rect x="1135" y="264" width="26" height="7.0" rx="3.5" fill="#e05660"/><rect x="1135" y="305.5" width="26" height="7.0" rx="3.5" fill="#6592eb"/><rect x="1135" y="347" width="26" height="7.0" rx="3.5" fill="#af7ad3"/><rect x="1135" y="388.5" width="26" height="7.0" rx="3.5" fill="#6d5e9c"/><rect x="1135" y="430" width="26" height="7.0" rx="3.5" fill="#4d853a"/><rect x="1135" y="471.5" width="26" height="7.0" rx="3.5" fill="#f5df55"/><rect x="1135" y="513" width="26" height="7.0" rx="3.5" fill="#527db7"/><rect x="988.9" y="650.6" width="26.2" height="7.0" rx="3.5" fill="#85bd72"/><rect x="988.9" y="692.1" width="26.2" height="7.0" rx="3.5" fill="#eccd47"/><rect x="988.9" y="733.6" width="26.2" height="7.0" rx="3.5" fill="#94b7f9"/><rect x="988.9" y="775.1" width="26.2" height="7.0" rx="3.5" fill="#ee8033"/><rect x="988.9" y="816.6" width="26.2" height="7.0" rx="3.5" fill="#e05660"/><rect x="988.9" y="858.1" width="26.2" height="7.0" rx="3.5" fill="#6592eb"/><rect x="988.9" y="899.6" width="26.2" height="7.0" rx="3.5" fill="#af7ad3"/><rect x="988.9" y="941.1" width="26.2" height="7.0" rx="3.5" fill="#6d5e9c"/><rect x="988.9" y="982.6" width="26.2" height="7.0" rx="3.5" fill="#4d853a"/><rect x="988.9" y="1024.1" width="26.2" height="7.0" rx="3.5" fill="#f5df55"/><rect x="988.9" y="1065.6" width="26.2" height="7.0" rx="3.5" fill="#527db7"/>
<text x="83.5" y="499.1" font-size="23.6" text-anchor="end" class="lg">0</text><text x="83.5" y="433.4" font-size="23.6" text-anchor="end" class="lg">500</text><text x="83.5" y="367.8" font-size="23.6" text-anchor="end" class="lg">1000</text><text x="83.5" y="302.1" font-size="23.6" text-anchor="end" class="lg">1500</text><text x="83.5" y="236.4" font-size="23.6" text-anchor="end" class="lg">2000</text><text x="83.5" y="170.8" font-size="23.6" text-anchor="end" class="lg">2500</text><text x="83.5" y="105.1" font-size="23.6" text-anchor="end" class="lg">3000</text><text x="312.4" y="526" font-size="23.6" text-anchor="middle" class="lg">15:15</text><text x="649.7" y="526" font-size="23.6" text-anchor="middle" class="lg">15:20</text><text x="987" y="526" font-size="23.6" text-anchor="middle" class="lg">15:25</text><text x="65.3" y="1052.8" font-size="23.6" text-anchor="end" class="lg">0</text><text x="65.3" y="981" font-size="23.6" text-anchor="end" class="lg">20</text><text x="65.3" y="909.2" font-size="23.6" text-anchor="end" class="lg">40</text><text x="65.3" y="837.4" font-size="23.6" text-anchor="end" class="lg">60</text><text x="65.3" y="765.6" font-size="23.6" text-anchor="end" class="lg">80</text><text x="65.3" y="693.8" font-size="23.6" text-anchor="end" class="lg">100</text><text x="267.5" y="1079.3" font-size="23.6" text-anchor="middle" class="lg">15:15</text><text x="561.5" y="1079.3" font-size="23.6" text-anchor="middle" class="lg">15:20</text><text x="855.6" y="1079.3" font-size="23.6" text-anchor="middle" class="lg">15:25</text><text x="1176" y="109.2" font-size="23.4" text-anchor="start" class="lg">waku-simulator_nwaku_100:8008</text><text x="1176" y="150.7" font-size="23.4" text-anchor="start" class="lg">waku-simulator_nwaku_10:8008</text><text x="1176" y="192.2" font-size="23.4" text-anchor="start" class="lg">waku-simulator_nwaku_11:8008</text><text x="1176" y="233.7" font-size="23.4" text-anchor="start" class="lg">waku-simulator_nwaku_12:8008</text><text x="1176" y="275.2" font-size="23.4" text-anchor="start" class="lg">waku-simulator_nwaku_13:8008</text><text x="1176" y="316.7" font-size="23.4" text-anchor="start" class="lg">waku-simulator_nwaku_14:8008</text><text x="1176" y="358.2" font-size="23.4" text-anchor="start" class="lg">waku-simulator_nwaku_15:8008</text><text x="1176" y="399.7" font-size="23.4" text-anchor="start" class="lg">waku-simulator_nwaku_16:8008</text><text x="1176" y="441.2" font-size="23.4" text-anchor="start" class="lg">waku-simulator_nwaku_17:8008</text><text x="1176" y="482.7" font-size="23.4" text-anchor="start" class="lg">waku-simulator_nwaku_18:8008</text><text x="1176" y="524.2" font-size="23.4" text-anchor="start" class="lg">waku-simulator_nwaku_19:8008</text><text x="1030.5" y="662" font-size="23.4" text-anchor="start" class="lg" textLength="308.5" lengthAdjust="spacing">bootstrap:8008_libp2p_peers</text><text x="1030.5" y="703.5" font-size="23.4" text-anchor="start" class="lg">waku-simulator_nwaku_100:8008_libp2p_peers</text><text x="1030.5" y="745" font-size="23.4" text-anchor="start" class="lg">waku-simulator_nwaku_10:8008_libp2p_peers</text><text x="1030.5" y="786.5" font-size="23.4" text-anchor="start" class="lg">waku-simulator_nwaku_11:8008_libp2p_peers</text><text x="1030.5" y="828" font-size="23.4" text-anchor="start" class="lg">waku-simulator_nwaku_12:8008_libp2p_peers</text><text x="1030.5" y="869.5" font-size="23.4" text-anchor="start" class="lg">waku-simulator_nwaku_13:8008_libp2p_peers</text><text x="1030.5" y="911" font-size="23.4" text-anchor="start" class="lg">waku-simulator_nwaku_14:8008_libp2p_peers</text><text x="1030.5" y="952.5" font-size="23.4" text-anchor="start" class="lg">waku-simulator_nwaku_15:8008_libp2p_peers</text><text x="1030.5" y="994" font-size="23.4" text-anchor="start" class="lg">waku-simulator_nwaku_16:8008_libp2p_peers</text><text x="1030.5" y="1035.5" font-size="23.4" text-anchor="start" class="lg">waku-simulator_nwaku_17:8008_libp2p_peers</text><text x="1030.5" y="1077" font-size="23.4" text-anchor="start" class="lg">waku-simulator_nwaku_18:8008_libp2p_peers</text><text x="26.4" y="49" font-size="26.8" text-anchor="start" class="ttl">Published Pubsub Messages/Minute</text><text x="26.4" y="602" font-size="26.8" text-anchor="start" class="ttl">Connected Peers</text>
</svg>
</body></html>
